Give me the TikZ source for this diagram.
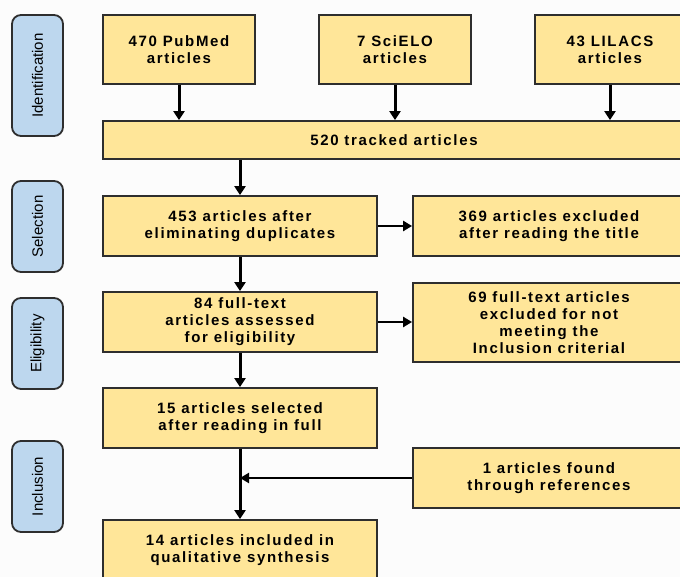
\documentclass[tikz,border=0pt]{standalone}
\usepackage{fontspec}
\setmainfont{Liberation Sans}[BoldFeatures={LetterSpace=11}]
\usetikzlibrary{arrows.meta}
\definecolor{boxyellow}{HTML}{FFE699}
\definecolor{phaseblue}{HTML}{BDD7EE}
\definecolor{edgegray}{HTML}{2E2E2E}
\tikzset{
  ybox/.style={draw=edgegray, line width=1.8pt, fill=boxyellow, rectangle, inner sep=0pt, align=center,
    font=\fontsize{15}{17}\selectfont\bfseries},
  phase/.style={draw=edgegray, line width=1.8pt, fill=phaseblue, rectangle, rounded corners=9pt, inner sep=0pt,
    minimum width=51pt, font=\fontsize{15}{17}\selectfont, rotate=90},
  varr/.style={line width=3pt, -{Triangle[length=9pt,width=11pt]}},
  harr/.style={line width=2.4pt, -{Triangle[length=9pt,width=10pt]}}
}
\begin{document}
\begin{tikzpicture}[x=1pt,y=-1pt]
\useasboundingbox (0,0) rectangle (680,577);
\fill[white!99!black] (0,0) rectangle (680,577);
\clip (0,0) rectangle (680,577);
% phases
\node[phase, minimum width=121pt, minimum height=51pt] (pid) at (37.5,75.5) {Identification};
\node[phase, minimum width=91pt, minimum height=51pt] (psel) at (37.5,226.5) {Selection};
\node[phase, minimum width=91pt, minimum height=51pt] (pel) at (37.5,343.5) {Eligibility};
\node[phase, minimum width=91pt, minimum height=51pt] (pin) at (37.5,486.5) {Inclusion};
% boxes
\node[ybox, minimum width=152pt, minimum height=69pt] (pub) at (179,49.5) {470 PubMed\\articles};
\node[ybox, minimum width=152pt, minimum height=69pt] (sci) at (395,49.5) {7 SciELO\\articles};
\node[ybox, minimum width=150pt, minimum height=69pt] (lil) at (610,49.5) {43 LILACS\\articles};
\node[ybox, minimum width=582pt, minimum height=38pt] (trk) at (394,140) {520 tracked articles};
\node[ybox, minimum width=274pt, minimum height=60pt] (dup) at (240,226) {453 articles after\\eliminating duplicates};
\node[ybox, minimum width=272pt, minimum height=60pt] (ex1) at (549,226) {369 articles excluded\\after reading the title};
\node[ybox, minimum width=274pt, minimum height=60pt] (ful) at (240,322) {84 full-text\\articles assessed\\for eligibility};
\node[ybox, minimum width=272pt, minimum height=79pt] (ex2) at (549,322.5) {69 full-text articles\\excluded for not\\meeting the\\Inclusion criterial};
\node[ybox, minimum width=274pt, minimum height=60pt] (s15) at (240,418) {15 articles selected\\after reading in full};
\node[ybox, minimum width=272pt, minimum height=60pt] (ref) at (549,478) {1 articles found\\through references};
\node[ybox, minimum width=274pt, minimum height=60pt] (i14) at (240,550) {14 articles included in\\qualitative synthesis};
% arrows
\draw[varr] (pub.south) -- (pub.south |- trk.north);
\draw[varr] (sci.south) -- (sci.south |- trk.north);
\draw[varr] (lil.south) -- (lil.south |- trk.north);
\draw[varr] (dup.north |- trk.south) -- (dup.north);
\draw[varr] (dup.south) -- (ful.north);
\draw[varr] (ful.south) -- (s15.north);
\draw[varr] (s15.south) -- (i14.north);
\draw[harr] (dup.east) -- (ex1.west);
\draw[harr] (ful.east) -- (ful.east -| ex2.west);
\coordinate (join) at (s15.south |- ref.west);
\draw[harr] (ref.west) -- (join);
\end{tikzpicture}
\end{document}
